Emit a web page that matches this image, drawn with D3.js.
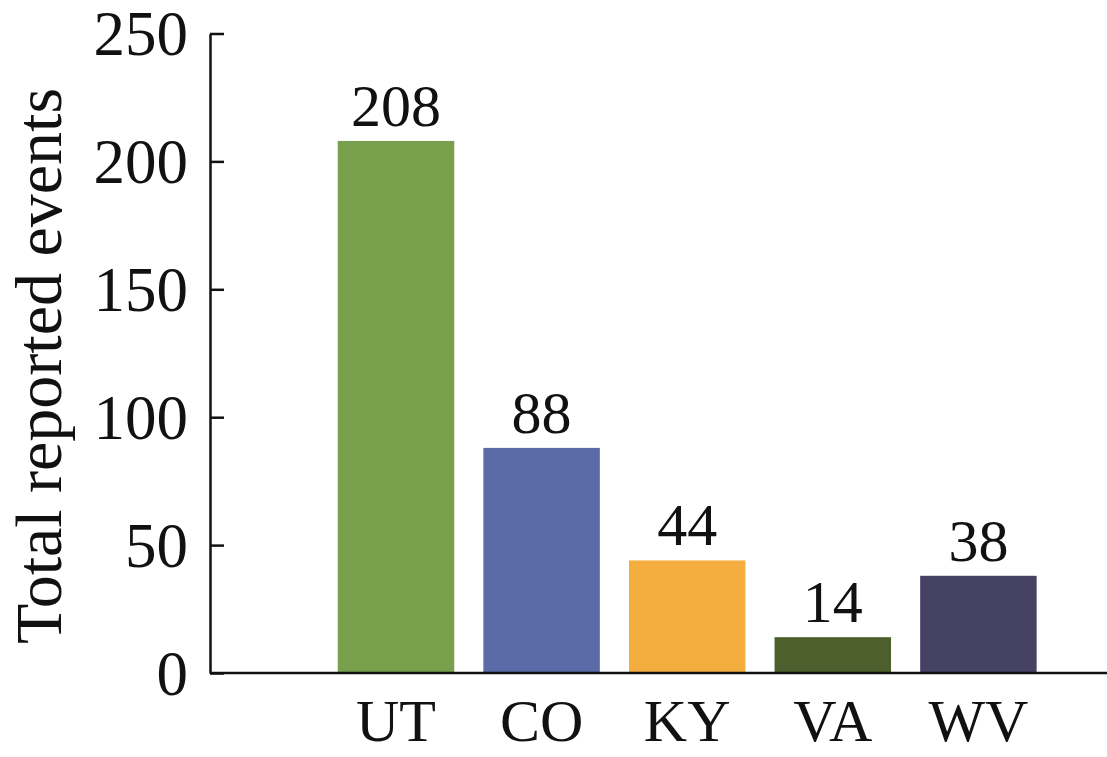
<!DOCTYPE html>
<html>
<head>
<meta charset="utf-8">
<script src="https://cdn.jsdelivr.net/npm/d3@7"></script>
<style>
  html, body { margin: 0; padding: 0; background: #fff; }
  svg { display: block; font-family: "Liberation Serif", "Times New Roman", serif; }
</style>
</head>
<body>
<svg id="chart" width="1107" height="757"></svg>
<script>
// Reported events per state
const states = ["UT", "CO", "KY", "VA", "WV"];
const events = [208, 88, 44, 14, 38];
const barColors = ["#789f4b", "#5b6ba8", "#f4ae3f", "#4d5f2d", "#464264"];
const yTicks = [0, 50, 100, 150, 200, 250];
const yTitle = "Total reported events";

const width = 1107, height = 757;
const axisX = 210, baseY = 673, topY = 33.5;

const svg = d3.select("#chart");

const y = d3.scaleLinear().domain([0, 250]).range([baseY, topY]);
const x = d3.scaleBand()
  .domain(states)
  .range([323.2, 1051.2])
  .paddingInner(0.2)
  .paddingOuter(0.1);

// Bars
svg.append("g")
  .selectAll("rect")
  .data(states)
  .join("rect")
  .attr("x", d => x(d))
  .attr("y", (d, i) => y(events[i]))
  .attr("width", x.bandwidth())
  .attr("height", (d, i) => y(0) - y(events[i]))
  .attr("fill", (d, i) => barColors[i]);

// Value labels above bars
svg.append("g")
  .selectAll("text")
  .data(states)
  .join("text")
  .attr("x", d => x(d) + x.bandwidth() / 2)
  .attr("y", (d, i) => y(events[i]) - 15)
  .attr("text-anchor", "middle")
  .attr("font-size", 60)
  .attr("fill", "#111")
  .text((d, i) => events[i]);

// Baseline running to the right edge
svg.append("line")
  .attr("x1", axisX).attr("x2", width)
  .attr("y1", y(0)).attr("y2", y(0))
  .attr("stroke", "#111").attr("stroke-width", 2.5);

// Category labels
svg.append("g")
  .selectAll("text")
  .data(states)
  .join("text")
  .attr("x", d => x(d) + x.bandwidth() / 2)
  .attr("y", 741)
  .attr("text-anchor", "middle")
  .attr("font-size", 60)
  .attr("fill", "#111")
  .text(d => d);

// Y axis with inward ticks
const yAxis = d3.axisLeft(y)
  .tickValues(yTicks)
  .tickSizeInner(-14)
  .tickSizeOuter(0)
  .tickPadding(22);

const gy = svg.append("g")
  .attr("transform", `translate(${axisX},0)`)
  .call(yAxis);
gy.select(".domain").attr("stroke", "#111").attr("stroke-width", 2.5);
gy.selectAll(".tick line").attr("stroke", "#111").attr("stroke-width", 2.5);
gy.selectAll(".tick text")
  .attr("font-size", 63)
  .attr("font-family", "Liberation Serif, Times New Roman, serif")
  .attr("fill", "#111")
  .attr("dy", "0.34em");

// Y axis title
svg.append("text")
  .attr("transform", `translate(61,${(75 + 657) / 2}) rotate(-90)`)
  .attr("text-anchor", "middle")
  .attr("font-size", 66)
  .attr("fill", "#111")
  .text(yTitle);
</script>
</body>
</html>
